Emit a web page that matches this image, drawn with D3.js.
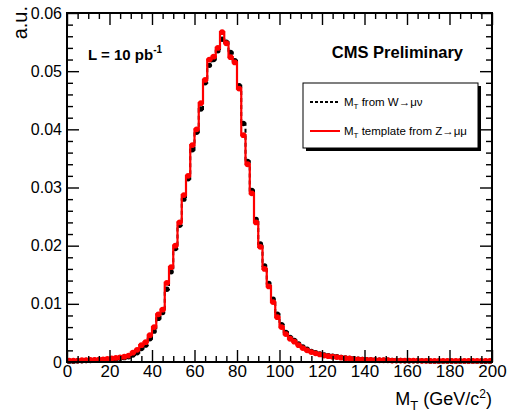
<!DOCTYPE html>
<html>
<head>
<meta charset="utf-8">
<script src="https://cdn.jsdelivr.net/npm/d3@7"></script>
<style>
  html, body { margin: 0; padding: 0; background: #fff; }
  svg { display: block; font-family: "Liberation Sans", Arial, sans-serif; }
</style>
</head>
<body>
<svg id="chart" width="509" height="417"></svg>
<script>
// ---- data (bin centres in GeV, values in a.u.) ----
const binCenters = [1,3,5,7,9,11,13,15,17,19,21,23,25,27,29,31,33,35,37,39,41,43,45,47,49,51,53,55,57,59,61,63,65,67,69,71,73,75,77,79,81,83,85,87,89,91,93,95,97,99,101,103,105,107,109,111,113,115,117,119,121,123,125,127,129,131,133,135,137,139,141,143,145,147,149,151,153,155,157,159,161,163,165,167,169,171,173,175,177,179,181,183,185,187,189,191,193,195,197,199];
// M_T template from Z->mumu (x 1e-3)
const zTemplate = [0.25,0.25,0.25,0.3,0.3,0.35,0.35,0.4,0.45,0.55,0.6,0.7,0.8,0.9,1.1,1.6,2.1,2.9,3.4,4.6,6.0,8.2,9.0,13.6,16.3,20.0,24.0,28.7,32.0,37.3,40.0,44.5,48.5,52.0,52.5,54.0,56.7,54.8,52.4,51.5,47.0,39.0,34.0,29.0,24.0,19.8,16.0,13.0,10.3,7.7,6.0,4.8,4.0,3.5,2.9,2.4,2.0,1.7,1.5,1.3,1.1,1.0,0.9,0.85,0.75,0.65,0.6,0.5,0.45,0.4,0.35,0.35,0.3,0.3,0.3,0.3,0.25,0.25,0.25,0.25,0.25,0.25,0.25,0.2,0.2,0.2,0.2,0.2,0.2,0.2,0.2,0.2,0.2,0.2,0.2,0.2,0.2,0.2,0.2,0.2];
// M_T from W->munu (x 1e-3)
const wMt = [0.15,0.15,0.2,0.2,0.25,0.25,0.3,0.3,0.35,0.4,0.45,0.55,0.65,0.75,0.9,1.2,1.6,2.3,2.9,4.0,5.3,7.5,8.5,12.5,15.5,19.5,23.5,28.0,31.5,36.5,39.5,43.5,48.0,51.0,52.0,53.5,55.5,55.0,53.2,51.8,47.5,41.0,34.5,29.5,24.5,20.3,16.5,13.5,10.8,8.2,6.4,5.1,4.2,3.7,3.1,2.6,2.2,1.8,1.6,1.4,1.2,1.1,1.0,0.9,0.8,0.7,0.6,0.55,0.5,0.45,0.4,0.35,0.35,0.3,0.3,0.3,0.25,0.25,0.25,0.2,0.2,0.2,0.2,0.2,0.2,0.15,0.15,0.15,0.15,0.15,0.15,0.15,0.15,0.15,0.15,0.15,0.15,0.15,0.15,0.15];
const xTicks = [0,20,40,60,80,100,120,140,160,180,200];
const yTicks = [0,0.01,0.02,0.03,0.04,0.05,0.06];
const yTickLabels = ["0","0.01","0.02","0.03","0.04","0.05","0.06"];
const legendLabels = ["from W\u2192\u03bc\u03bd", "template from Z\u2192\u03bc\u03bc"];

const svg = d3.select("#chart");
const L = 67, R = 492, T = 13, B = 362;
const x = d3.scaleLinear().domain([0, 200]).range([L, R]);
const y = d3.scaleLinear().domain([0, 0.06]).range([B, T]);

const zData = binCenters.map((c, i) => ({x: c, y: zTemplate[i] * 1e-3}));
const wData = binCenters.map((c, i) => ({x: c, y: wMt[i] * 1e-3}));

const plot = svg.append("g");
const line = d3.line().x(d => x(d.x)).y(d => y(d.y)).curve(d3.curveStep);

// black W series
plot.append("path").datum(wData).attr("d", line)
  .attr("fill", "none").attr("stroke", "#000").attr("stroke-width", 2).attr("stroke-dasharray", "4,3");
plot.selectAll("circle.w").data(wData).enter().append("circle").attr("class", "w")
  .attr("cx", d => x(d.x)).attr("cy", d => y(d.y)).attr("r", 2.7).attr("fill", "#000");
// red Z template
plot.append("path").datum(zData).attr("d", line)
  .attr("fill", "none").attr("stroke", "#ff0000").attr("stroke-width", 2.2);
plot.selectAll("circle.z").data(zData).enter().append("circle").attr("class", "z")
  .attr("cx", d => x(d.x)).attr("cy", d => y(d.y)).attr("r", 2.9).attr("fill", "#ff0000");

// ---- axes ----
const xMinor = d3.range(0, 201, 5).filter(v => v % 20 !== 0);
const yMinor = d3.range(0, 31).map(i => i * 0.002).filter((v, i) => i % 5 !== 0);

function styleAxis(g) {
  g.select(".domain").remove();
  g.selectAll(".tick line").attr("stroke", "#000").attr("stroke-width", 1.4);
  g.selectAll("text").attr("fill", "#000");
}

// bottom
svg.append("g").attr("transform", `translate(0,${B})`)
  .call(d3.axisBottom(x).tickValues(xTicks).tickFormat(d3.format("d")).tickSizeInner(-12).tickSizeOuter(0).tickPadding(3))
  .call(styleAxis)
  .call(g => g.selectAll("text").attr("font-size", 17).attr("font-family", "Liberation Sans, Arial, sans-serif"));
svg.append("g").attr("transform", `translate(0,${B})`)
  .call(d3.axisBottom(x).tickValues(xMinor).tickFormat("").tickSizeInner(-6).tickSizeOuter(0))
  .call(styleAxis);
// top
svg.append("g").attr("transform", `translate(0,${T})`)
  .call(d3.axisTop(x).tickValues(xTicks).tickFormat("").tickSizeInner(-12).tickSizeOuter(0))
  .call(styleAxis);
svg.append("g").attr("transform", `translate(0,${T})`)
  .call(d3.axisTop(x).tickValues(xMinor).tickFormat("").tickSizeInner(-6).tickSizeOuter(0))
  .call(styleAxis);
// left
svg.append("g").attr("transform", `translate(${L},0)`)
  .call(d3.axisLeft(y).tickValues(yTicks).tickFormat((d, i) => yTickLabels[i]).tickSizeInner(-12).tickSizeOuter(0).tickPadding(5))
  .call(styleAxis)
  .call(g => g.selectAll("text").attr("font-size", 16).attr("font-family", "Liberation Sans, Arial, sans-serif"));
svg.append("g").attr("transform", `translate(${L},0)`)
  .call(d3.axisLeft(y).tickValues(yMinor).tickFormat("").tickSizeInner(-6).tickSizeOuter(0))
  .call(styleAxis);
// right
svg.append("g").attr("transform", `translate(${R},0)`)
  .call(d3.axisRight(y).tickValues(yTicks).tickFormat("").tickSizeInner(-12).tickSizeOuter(0))
  .call(styleAxis);
svg.append("g").attr("transform", `translate(${R},0)`)
  .call(d3.axisRight(y).tickValues(yMinor).tickFormat("").tickSizeInner(-6).tickSizeOuter(0))
  .call(styleAxis);

// frame
svg.append("rect").attr("x", L).attr("y", T).attr("width", R - L).attr("height", B - T)
  .attr("fill", "none").attr("stroke", "#000").attr("stroke-width", 2);

// axis titles
const xt = svg.append("text").attr("x", R).attr("y", 405).attr("text-anchor", "end")
  .attr("font-size", 18).attr("fill", "#000");
xt.append("tspan").text("M");
xt.append("tspan").attr("font-size", 13).attr("dy", 5).text("T");
xt.append("tspan").attr("dy", -5).text(" (GeV/c");
xt.append("tspan").attr("font-size", 12).attr("dy", -7).text("2");
xt.append("tspan").attr("dy", 7).text(")");

svg.append("text").attr("transform", "translate(27,6) rotate(-90)").attr("text-anchor", "end")
  .attr("font-size", 20).attr("fill", "#000").text("a.u.");

// annotations
const lum = svg.append("text").attr("x", 88).attr("y", 60).attr("font-size", 15).attr("font-weight", "bold").attr("fill", "#000");
lum.append("tspan").text("L = 10 pb");
lum.append("tspan").attr("font-size", 10).attr("dy", -7).text("-1");

svg.append("text").attr("x", 463).attr("y", 58).attr("text-anchor", "end")
  .attr("font-size", 16.5).attr("font-weight", "bold").attr("fill", "#000").text("CMS Preliminary");

// legend
const lg = svg.append("g");
lg.append("rect").attr("x", 306).attr("y", 86).attr("width", 175).attr("height", 65).attr("fill", "#000");
lg.append("rect").attr("x", 303).attr("y", 83).attr("width", 175).attr("height", 65)
  .attr("fill", "#fff").attr("stroke", "#000").attr("stroke-width", 1);
const legItems = [
  {yy: 102, color: "#000", dash: "3,2", label: legendLabels[0]},
  {yy: 131, color: "#ff0000", dash: null, label: legendLabels[1]}
];
legItems.forEach(it => {
  lg.append("line").attr("x1", 310).attr("x2", 340).attr("y1", it.yy).attr("y2", it.yy)
    .attr("stroke", it.color).attr("stroke-width", 2).attr("stroke-dasharray", it.dash);
  const t = lg.append("text").attr("x", 344).attr("y", it.yy + 4).attr("font-size", 11.5).attr("fill", "#000");
  t.append("tspan").text("M");
  t.append("tspan").attr("font-size", 8).attr("dy", 3).text("T");
  t.append("tspan").attr("dy", -3).text(" " + it.label);
});
</script>
</body>
</html>
